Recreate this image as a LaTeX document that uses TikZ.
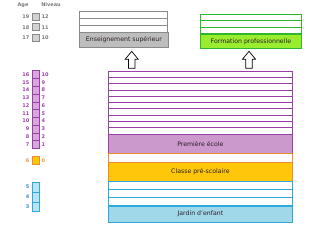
\documentclass[tikz,border=0pt]{standalone}
\usepackage{fontspec}
\setmainfont{DejaVu Sans}
\definecolor{pborder}{HTML}{9A3FA8}
\definecolor{pfill}{HTML}{CC99CC}
\definecolor{psq}{HTML}{D8A8DC}
\definecolor{ptext}{HTML}{A040A8}
\definecolor{oborder}{HTML}{F08A30}
\definecolor{ofill}{HTML}{FFC60A}
\definecolor{otext}{HTML}{F09040}
\definecolor{bborder}{HTML}{2FA8E0}
\definecolor{bfill}{HTML}{A0D8EA}
\definecolor{bsq}{HTML}{B8E4F6}
\definecolor{btext}{HTML}{3090CC}
\definecolor{gborder}{HTML}{8A8A8A}
\definecolor{gfill}{HTML}{BDBDBD}
\definecolor{gtext}{HTML}{7A7A7A}
\definecolor{grborder}{HTML}{2EB82E}
\definecolor{grfill}{HTML}{9AEC2E}
\definecolor{labtext}{HTML}{2A1E2A}
\begin{document}
\begin{tikzpicture}[x=1pt,y=-1pt,
  lab/.style={anchor=north west, inner sep=0pt, font=\fontsize{6.2}{7}\selectfont, text=labtext, line width=0.8pt},
  num/.style={inner sep=0pt, font=\fontsize{5}{5.5}\selectfont\bfseries},
  blockarrow/.style={draw=black, fill=white, line width=0.7pt, line join=miter}]
\useasboundingbox (0,0) rectangle (330,233);
% ---- header ----
\node[num, text=gtext] (hage) at (23,5) {Age};
\node[num, text=gtext] (hniv) at (51,5) {Niveau};
% grey squares 19-17
\foreach \a/\n/\y in {19/12/17, 18/11/27.2, 17/10/37.4}{
  \node[draw=gborder, fill=gfill!70, line width=0.6pt, minimum size=7pt, inner sep=0pt] (gs\n) at (35.7,\y) {};
  \node[num, text=gtext, anchor=east] (ga\n) at (29.5,\y) {\a};
  \node[num, text=gtext, anchor=west] (gn\n) at (41.5,\y) {\n};
}
% purple squares 16-7
\foreach \a/\n [count=\i from 0] in {16/10,15/9,14/8,13/7,12/6,11/5,10/4,9/3,8/2,7/1}{
  \node[draw=pborder, fill=psq, line width=0.5pt, minimum width=7pt, minimum height=7.76pt, inner sep=0pt] (ps\n) at (35.8,{74.6+\i*7.76}) {};
  \node[num, text=ptext, anchor=east] (pa\n) at (29.5,{74.6+\i*7.76}) {\a};
  \node[num, text=ptext, anchor=west] (pn\n) at (41.5,{74.6+\i*7.76}) {\n};
}
% orange square 6
\node[draw=oborder, fill=ofill, line width=0.5pt, minimum width=7pt, minimum height=8.3pt, inner sep=0pt] (os) at (35.6,160.2) {};
\node[num, text=otext, anchor=east] (oa) at (29.5,160.2) {6};
\node[num, text=otext, anchor=west] (on) at (41.5,160.2) {0};
% blue squares 5-3
\foreach \a [count=\i from 0] in {5,4,3}{
  \node[draw=bborder, fill=bsq, line width=0.6pt, minimum width=7pt, minimum height=9.8pt, inner sep=0pt] (bs\a) at (36,{187.2+\i*9.8}) {};
  \node[num, text=btext, anchor=east] (ba\a) at (29.5,{187.2+\i*9.8}) {\a};
}
% ---- top: Enseignement superieur ----
\foreach \i in {0,1,2}{
  \draw[draw=gborder, fill=white, line width=0.8pt] (79.3,{11.7+\i*6.87}) rectangle (167.7,{11.7+(\i+1)*6.87});
}
\node[lab, draw=gborder, fill=gfill, minimum width=88.4pt, minimum height=14.4pt] (sup) at (79.3,32.3) {};
\node[lab, anchor=center] (suptxt) at (sup.center) {Enseignement supérieur};
% ---- top: Formation professionnelle ----
\foreach \i in {0,1,2}{
  \draw[draw=grborder, fill=white, line width=0.8pt] (200,{14.3+\i*6.47}) rectangle (301,{14.3+(\i+1)*6.47});
}
\node[lab, draw=grborder, fill=grfill, minimum width=101pt, minimum height=14.6pt] (pro) at (200,33.7) {};
\node[lab, anchor=center] (protxt) at (pro.center) {Formation professionnelle};
% ---- arrows ----
\foreach \cx/\nm in {131.7/a1, 249/a2}{
  \draw[blockarrow] (\cx,51.3) -- ({\cx+6.5},59.2) -- ({\cx+3.3},59.2) -- ({\cx+3.3},68.3)
    -- ({\cx-3.3},68.3) -- ({\cx-3.3},59.2) -- ({\cx-6.5},59.2) -- cycle;
}
% ---- purple block ----
\foreach \i in {0,...,9}{
  \draw[draw=pborder, fill=white, line width=0.8pt] (108,{71+\i*6.3}) rectangle (292,{71+(\i+1)*6.3});
}
\node[lab, draw=pborder, fill=pfill, minimum width=184pt, minimum height=19.3pt] (prem) at (108,134) {};
\node[lab, anchor=center] (premtxt) at (prem.center) {Première école};
% white stripe
\draw[draw=oborder, fill=white, line width=0.6pt] (108,153.3) rectangle (292,162.3);
% ---- orange block ----
\node[lab, draw=oborder, fill=ofill, minimum width=184pt, minimum height=18.7pt] (pres) at (108,162.3) {};
\node[lab, anchor=center] (prestxt) at (pres.center) {Classe pré-scolaire};
% ---- blue block ----
\foreach \i in {0,1,2}{
  \draw[draw=bborder, fill=white, line width=0.8pt] (108,{181+\i*8.23}) rectangle (292,{181+(\i+1)*8.23});
}
\node[lab, draw=bborder, fill=bfill, minimum width=184pt, minimum height=16pt] (jard) at (108,205.7) {};
\node[lab, anchor=center] (jardtxt) at (jard.center) {Jardin d'enfant};
\end{tikzpicture}
\end{document}
